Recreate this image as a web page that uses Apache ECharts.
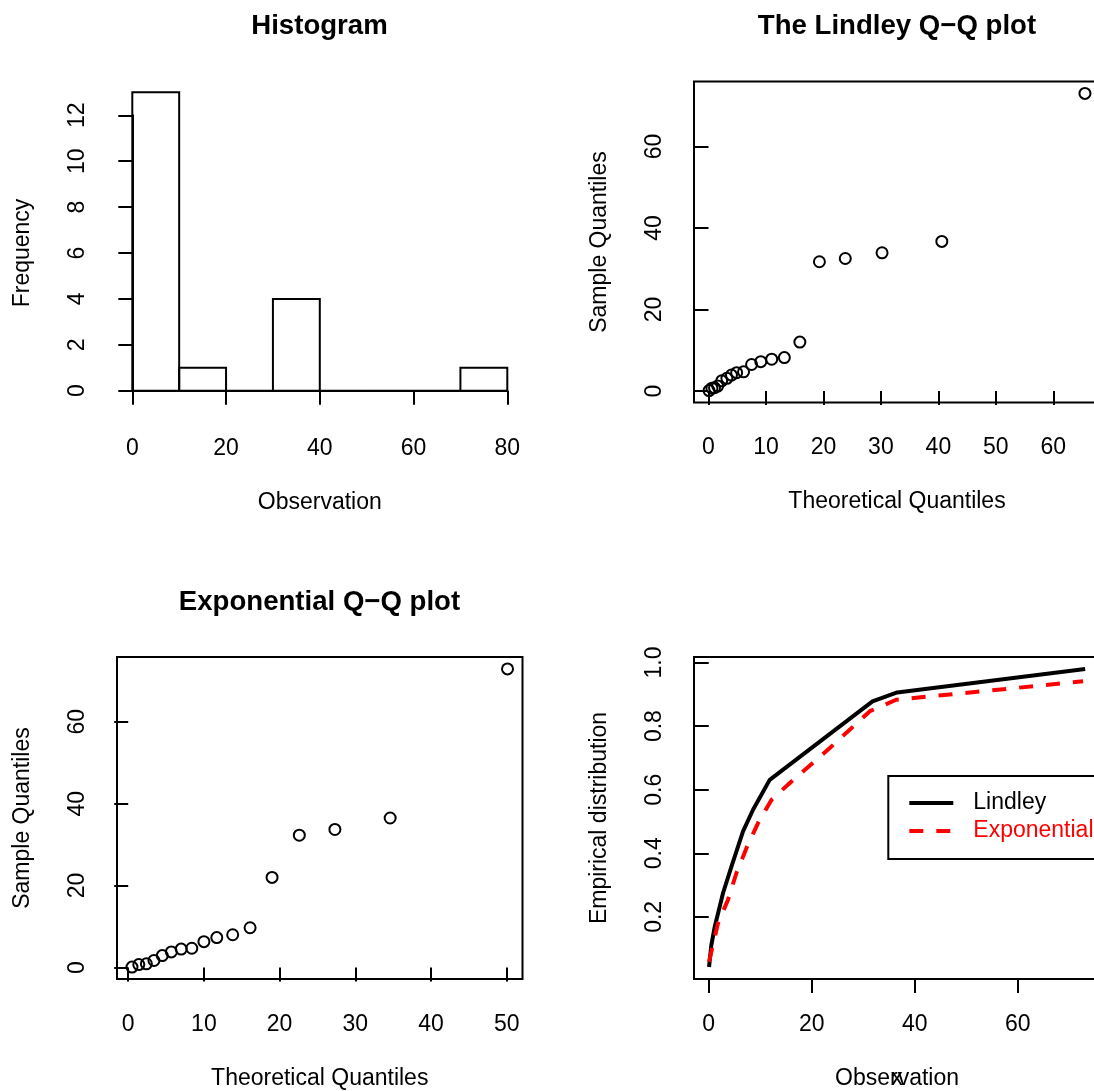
<!DOCTYPE html>
<html>
<head>
<meta charset="utf-8">
<title>Lindley fit</title>
<script src="https://cdn.jsdelivr.net/npm/echarts@6/dist/echarts.min.js"></script>
<style>
html, body { margin: 0; padding: 0; background: #fff; }
#main { width: 1094px; height: 1091px; }
</style>
</head>
<body>
<div id="main"></div>
<script>
// histogram bins
var histBreaks = [0, 10, 20, 30, 40, 50, 60, 70, 80];
var histCounts = [13, 1, 0, 4, 0, 0, 0, 1];

// Lindley Q-Q
var lindleyTheo = [0.1, 0.6, 1.05, 1.6, 2.3, 3.2, 4.0, 4.9, 6.1, 7.5, 9.1, 11.0, 13.2, 15.9, 19.3, 23.8, 30.2, 40.6, 65.5];
var lindleySample = [0.1, 0.7, 0.8, 1.2, 2.5, 3.1, 3.9, 4.5, 4.7, 6.5, 7.2, 7.8, 8.2, 12.0, 31.7, 32.5, 33.9, 36.7, 73.0];

// Exponential Q-Q
var expTheo = [0.5, 1.4, 2.4, 3.4, 4.5, 5.7, 7.0, 8.4, 10.0, 11.7, 13.8, 16.1, 19.0, 22.6, 27.3, 34.6, 50.1];
var expSample = [0.1, 0.7, 0.9, 1.7, 2.9, 3.8, 4.5, 4.7, 6.3, 7.3, 8.0, 9.7, 22.0, 32.3, 33.7, 36.5, 72.9];

// fitted distribution curves
var lindleyX = [0.06, 0.5, 1.17, 2.78, 4.41, 6.66, 8.6, 11.84, 31.8, 36.6, 73.1];
var lindleyF = [0.042, 0.11, 0.169, 0.275, 0.358, 0.469, 0.537, 0.631, 0.878, 0.906, 0.98];
var expX = [0.06, 1.8, 3.75, 5.38, 7.32, 9.57, 12.17, 15.4, 23.5, 31.3, 36.4, 72.7];
var expF = [0.059, 0.18, 0.254, 0.338, 0.416, 0.495, 0.568, 0.616, 0.731, 0.847, 0.883, 0.941];

// tick labels
var histXTicks = [0, 20, 40, 60, 80];
var qqTicks10 = [0, 10, 20, 30, 40, 50, 60];
var qqTicks20 = [0, 20, 40, 60];
var cdfYTicks = [0.2, 0.4, 0.6, 0.8, 1.0];

var FONT = '"Liberation Sans", Arial, Helvetica, sans-serif';
var BLACK = '#000';

function pairs(a, b) {
    return a.map(function (v, i) { return [v, b[i]]; });
}

var tickLine = { color: BLACK, width: 2 };
var nameStyle = { color: BLACK, fontSize: 23, fontFamily: FONT };

// x axis of a boxed panel (box drawn by grid border)
function xAxisBox(gi, min, max, ticks, name) {
    return {
        type: 'value', gridIndex: gi, min: min, max: max,
        axisLine: { show: false },
        axisTick: { show: true, customValues: ticks, length: 14, lineStyle: tickLine },
        axisLabel: { customValues: ticks, margin: 34, color: BLACK, fontSize: 23, fontFamily: FONT },
        splitLine: { show: false },
        name: name, nameLocation: 'middle', nameGap: 88, nameTextStyle: nameStyle
    };
}
function yAxisBox(gi, min, max, ticks, name, fmt) {
    var lab = { customValues: ticks, margin: 28, rotate: 90, color: BLACK, fontSize: 23, fontFamily: FONT };
    if (fmt) lab.formatter = fmt;
    return {
        type: 'value', gridIndex: gi, min: min, max: max,
        axisLine: { show: false },
        axisTick: { show: true, customValues: ticks, length: 14, lineStyle: tickLine },
        axisLabel: lab,
        splitLine: { show: false },
        name: name, nameLocation: 'middle', nameGap: 83, nameTextStyle: nameStyle
    };
}

var boxGrid = { show: true, borderColor: BLACK, borderWidth: 2, backgroundColor: 'transparent', outerBoundsMode: 'none', containLabel: false };
function grid(l, t, w, h, boxed) {
    var g = boxed ? Object.assign({}, boxGrid) : { show: false, outerBoundsMode: 'none', containLabel: false };
    g.left = l; g.top = t; g.width = w; g.height = h;
    return g;
}

var titleStyle = { color: BLACK, fontSize: 27.6, fontWeight: 'bold', fontFamily: FONT };
function title(text, x, y) {
    return { text: text, left: x, top: y, textAlign: 'center', padding: 0, textStyle: titleStyle };
}

var circle = {
    type: 'scatter', symbol: 'circle', symbolSize: 11,
    itemStyle: { color: 'rgba(0,0,0,0)', borderColor: BLACK, borderWidth: 2, opacity: 1 },
    emphasis: { disabled: true }
};

var chart = echarts.init(document.getElementById('main'));

chart.setOption({
    backgroundColor: '#fff',
    animation: false,
    title: [
        title('Histogram', 319.5, 12),
        title('The Lindley Q\u2212Q plot', 897, 12),
        title('Exponential Q\u2212Q plot', 319.5, 588)
    ],
    grid: [
        grid(132.3, 115.3, 375, 275.4, false),
        grid(694, 81.5, 406, 321, true),
        grid(117, 657, 405.5, 322, true),
        grid(694, 657, 406, 322, true)
    ],
    xAxis: [
        {
            type: 'value', gridIndex: 0, min: 0, max: 80, interval: 20, offset: 12,
            axisLine: { show: true, lineStyle: tickLine },
            axisTick: { show: true, length: 14, lineStyle: tickLine },
            axisLabel: { customValues: histXTicks, margin: 34, color: BLACK, fontSize: 23, fontFamily: FONT },
            splitLine: { show: false },
            name: 'Observation', nameLocation: 'middle', nameGap: 88, nameTextStyle: nameStyle
        },
        xAxisBox(1, -2.52, 68.12, qqTicks10, 'Theoretical Quantiles'),
        xAxisBox(2, -1.48, 52.08, qqTicks10.slice(0, 6), 'Theoretical Quantiles'),
        xAxisBox(3, -2.86, 75.98, qqTicks20, 'Observation')
    ],
    yAxis: [
        {
            type: 'value', gridIndex: 0, min: 0, max: 12, interval: 2, offset: 15.6,
            axisLine: { show: true, lineStyle: tickLine },
            axisTick: { show: true, length: 14, lineStyle: tickLine },
            axisLabel: { margin: 28, rotate: 90, color: BLACK, fontSize: 23, fontFamily: FONT },
            splitLine: { show: false },
            name: 'Frequency', nameLocation: 'middle', nameGap: 83, nameTextStyle: nameStyle
        },
        yAxisBox(1, -2.82, 75.92, qqTicks20, 'Sample Quantiles'),
        yAxisBox(2, -2.81, 75.81, qqTicks20, 'Sample Quantiles'),
        yAxisBox(3, 0.0045, 1.0175, cdfYTicks, 'Empirical distribution', function (v) { return v.toFixed(1); })
    ],
    legend: {
        left: 888.3, top: 776,
        orient: 'vertical',
        padding: [13, 200, 14, 19],
        borderColor: BLACK, borderWidth: 2,
        itemWidth: 44, itemHeight: 28, itemGap: 0,
        selectedMode: false,
        itemStyle: { opacity: 0 },
        lineStyle: { width: 4 },
        textStyle: { color: BLACK, fontSize: 23, fontFamily: FONT, lineHeight: 28, padding: [0, 0, 0, 15] },
        data: [
            { name: 'Lindley' },
            { name: 'Exponential', textStyle: { color: '#ff0000' } }
        ]
    },
    graphic: [
        // R printed the default "x" label on top of "Observation"
        {
            type: 'text', x: 897, y: 1067, silent: true,
            style: { text: 'x', align: 'center', verticalAlign: 'top', fill: BLACK, fontSize: 23, fontFamily: FONT }
        }
    ],
    series: [
        {
            type: 'custom', xAxisIndex: 0, yAxisIndex: 0,
            data: histCounts.map(function (c, i) { return [histBreaks[i], histBreaks[i + 1], c]; }),
            encode: { x: [0, 1], y: 2 },
            renderItem: function (params, api) {
                var p0 = api.coord([api.value(0), api.value(2)]);
                var p1 = api.coord([api.value(1), 0]);
                return {
                    type: 'rect',
                    shape: { x: p0[0], y: p0[1], width: p1[0] - p0[0], height: p1[1] - p0[1] },
                    style: { fill: 'none', stroke: BLACK, lineWidth: 2 }
                };
            }
        },
        Object.assign({ xAxisIndex: 1, yAxisIndex: 1, data: pairs(lindleyTheo, lindleySample) }, circle),
        Object.assign({ xAxisIndex: 2, yAxisIndex: 2, data: pairs(expTheo, expSample) }, circle),
        {
            name: 'Lindley', type: 'line', xAxisIndex: 3, yAxisIndex: 3,
            symbol: 'none', smooth: false,
            lineStyle: { color: BLACK, width: 4 }, itemStyle: { color: BLACK },
            data: pairs(lindleyX, lindleyF)
        },
        {
            name: 'Exponential', type: 'line', xAxisIndex: 3, yAxisIndex: 3,
            symbol: 'none', smooth: false,
            lineStyle: { color: '#ff0000', width: 4, type: [14, 13] }, itemStyle: { color: '#ff0000' },
            data: pairs(expX, expF)
        }
    ]
});
</script>
</body>
</html>
